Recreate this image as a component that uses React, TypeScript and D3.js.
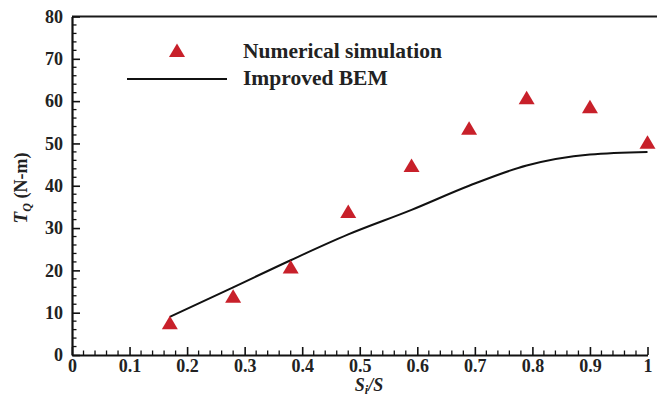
import { useEffect, useRef } from 'react';
import * as d3 from 'd3';

const simX = [0.17, 0.28, 0.38, 0.48, 0.59, 0.69, 0.79, 0.9, 1.0];
const simY = [7.6, 13.9, 20.8, 33.9, 44.8, 53.6, 60.8, 58.7, 50.3];

const bemX = [0.17, 0.28, 0.38, 0.48, 0.59, 0.69, 0.79, 0.9, 1.0];
const bemY = [9.0, 16.0, 22.4, 28.5, 34.3, 40.0, 44.8, 47.4, 48.0];

const xTicks = [0, 0.1, 0.2, 0.3, 0.4, 0.5, 0.6, 0.7, 0.8, 0.9, 1];
const yTicks = [0, 10, 20, 30, 40, 50, 60, 70, 80];

const seriesNames = ['Numerical simulation', 'Improved BEM'];

const WIDTH = 657;
const HEIGHT = 396;
const FONT = "'Liberation Serif', 'Times New Roman', serif";
const RED = '#c8202a';

function trianglePath(cx: number, cy: number): string {
  return `M${cx},${cy - 7} L${cx + 8},${cy + 6.5} L${cx - 8},${cy + 6.5} Z`;
}

export default function App() {
  const svgRef = useRef<SVGSVGElement>(null);

  useEffect(() => {
    if (!svgRef.current) return;
    const svg = d3.select(svgRef.current);
    svg.selectAll('*').remove();

    const margin = { top: 16.5, right: 10, bottom: 41, left: 72 };

    const x = d3.scaleLinear().domain([0, 1]).range([margin.left, 647.5]);
    const y = d3.scaleLinear().domain([0, 80]).range([HEIGHT - margin.bottom, margin.top]);

    // top frame line
    svg
      .append('line')
      .attr('x1', margin.left)
      .attr('x2', WIDTH)
      .attr('y1', y(80))
      .attr('y2', y(80))
      .attr('stroke', '#1a1a1a')
      .attr('stroke-width', 2);

    // axes: ticks point inward
    const xMinor = d3.range(0, 1.0001, 0.02).filter((v) => Math.abs(v * 10 - Math.round(v * 10)) > 1e-6);
    const yMinor = d3.range(0, 80.001, 2).filter((v) => v % 10 !== 0);

    const xAxis = d3
      .axisBottom(x)
      .tickValues(xTicks)
      .tickSize(-8)
      .tickSizeOuter(0)
      .tickPadding(4)
      .tickFormat((v) => d3.format('')(Number(v)));

    const yAxis = d3
      .axisLeft(y)
      .tickValues(yTicks)
      .tickSize(-8)
      .tickSizeOuter(0)
      .tickPadding(9);

    const styleAxis = (group: d3.Selection<SVGGElement, unknown, null, undefined>) => {
      group.select('.domain').attr('stroke', '#111').attr('stroke-width', 2.2);
      group.selectAll('.tick line').attr('stroke', '#111').attr('stroke-width', 1.6);
      group
        .selectAll('.tick text')
        .attr('fill', '#222')
        .attr('font-size', 18)
        .attr('font-weight', 'bold')
        .attr('font-family', FONT);
    };

    const gx = svg
      .append('g')
      .attr('transform', `translate(0,${y(0)})`)
      .call(xAxis)
      .call(styleAxis);

    gx.selectAll('.minor')
      .data(xMinor)
      .join('line')
      .attr('class', 'minor')
      .attr('x1', (d) => x(d))
      .attr('x2', (d) => x(d))
      .attr('y1', 0)
      .attr('y2', -4.5)
      .attr('stroke', '#111')
      .attr('stroke-width', 1.3);

    const gy = svg
      .append('g')
      .attr('transform', `translate(${margin.left},0)`)
      .call(yAxis)
      .call(styleAxis);

    gy.selectAll('.minor')
      .data(yMinor)
      .join('line')
      .attr('class', 'minor')
      .attr('y1', (d) => y(d))
      .attr('y2', (d) => y(d))
      .attr('x1', 0)
      .attr('x2', 4.5)
      .attr('stroke', '#111')
      .attr('stroke-width', 1.3);

    // Improved BEM curve
    const line = d3
      .line<number>()
      .x((d) => x(d))
      .y((_, i) => y(bemY[i]))
      .curve(d3.curveMonotoneX);

    svg
      .append('path')
      .attr('d', line(bemX))
      .attr('fill', 'none')
      .attr('stroke', '#111')
      .attr('stroke-width', 2);

    // Numerical simulation markers
    svg
      .append('g')
      .selectAll('path')
      .data(simX)
      .join('path')
      .attr('d', (d, i) => trianglePath(x(d), y(simY[i])))
      .attr('fill', RED);

    // legend
    const legend = svg.append('g');
    legend.append('path').attr('d', trianglePath(177, 50.5)).attr('fill', RED);
    legend
      .append('line')
      .attr('x1', 127)
      .attr('x2', 227)
      .attr('y1', 79)
      .attr('y2', 79)
      .attr('stroke', '#111')
      .attr('stroke-width', 2);
    legend
      .selectAll('text')
      .data(seriesNames)
      .join('text')
      .attr('x', 243)
      .attr('y', (_, i) => 58 + i * 27)
      .attr('font-family', FONT)
      .attr('font-weight', 'bold')
      .attr('font-size', 21.5)
      .attr('fill', '#222')
      .text((d) => d);

    // x axis label
    const xl = svg
      .append('text')
      .attr('x', 369)
      .attr('y', 391)
      .attr('text-anchor', 'middle')
      .attr('font-family', FONT)
      .attr('font-weight', 'bold')
      .attr('font-style', 'italic')
      .attr('font-size', 18)
      .attr('fill', '#222');
    xl.append('tspan').text('S');
    xl.append('tspan').attr('font-size', 12).attr('dy', 3).text('i');
    xl.append('tspan').attr('dy', -3).text('/S');

    // y axis label
    const yl = svg
      .append('text')
      .attr('transform', `translate(27,188) rotate(-90)`)
      .attr('text-anchor', 'middle')
      .attr('font-family', FONT)
      .attr('font-weight', 'bold')
      .attr('font-size', 18)
      .attr('fill', '#222');
    yl.append('tspan').attr('font-style', 'italic').attr('font-size', 19).text('T');
    yl.append('tspan').attr('font-style', 'italic').attr('font-size', 12).attr('dy', 4).text('Q');
    yl.append('tspan').attr('dy', -4).text(' (N-m)');
  }, []);

  return (
    <svg
      ref={svgRef}
      width={WIDTH}
      height={HEIGHT}
      viewBox={`0 0 ${WIDTH} ${HEIGHT}`}
      style={{ position: 'absolute', left: 0, top: 0, background: '#fff' }}
    />
  );
}
